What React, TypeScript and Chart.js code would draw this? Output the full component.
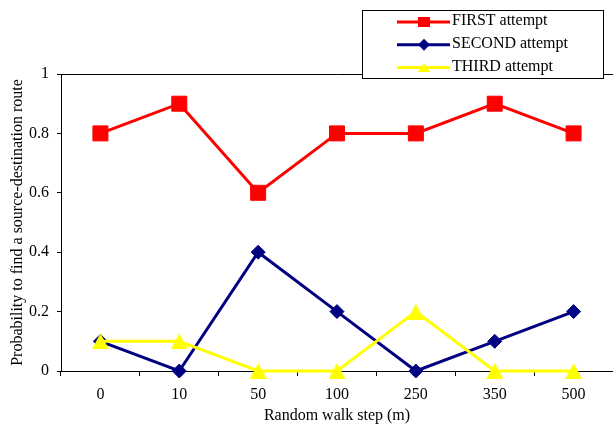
import React, { useEffect, useRef } from "react";
import { Chart, registerables } from "chart.js";

Chart.register(...registerables);

const categories = ["0", "10", "50", "100", "250", "350", "500"];
const firstAttempt = [0.8, 0.9, 0.6, 0.8, 0.8, 0.9, 0.8];
const secondAttempt = [0.1, 0, 0.4, 0.2, 0, 0.1, 0.2];
const thirdAttempt = [0.1, 0.1, 0, 0, 0.2, 0, 0];
const yTicks = [0, 0.2, 0.4, 0.6, 0.8, 1];
const seriesNames = ["FIRST attempt", "SECOND attempt", "THIRD attempt"];
const seriesColors = ["#FF0000", "#000080", "#FFFF00"];
const xTitle = "Random walk step (m)";
const yTitle = "Probability to find a source-destination route";

const FONT = "'Liberation Serif', 'Times New Roman', serif";

function makeTriangle(color: string, w: number, h: number) {
  const c = document.createElement("canvas");
  c.width = w;
  c.height = h;
  const ctx = c.getContext("2d")!;
  ctx.fillStyle = color;
  ctx.beginPath();
  ctx.moveTo(w / 2, 0);
  ctx.lineTo(w, h);
  ctx.lineTo(0, h);
  ctx.closePath();
  ctx.fill();
  return c;
}

function drawMarker(ctx: CanvasRenderingContext2D, kind: number, x: number, y: number) {
  ctx.beginPath();
  if (kind === 0) {
    ctx.rect(x - 6, y - 5, 12, 10);
  } else if (kind === 1) {
    ctx.moveTo(x - 6, y);
    ctx.lineTo(x, y - 6);
    ctx.lineTo(x + 6, y);
    ctx.lineTo(x, y + 6);
    ctx.closePath();
  } else {
    ctx.moveTo(x, y - 4);
    ctx.lineTo(x + 6.5, y + 4.5);
    ctx.lineTo(x - 6.5, y + 4.5);
    ctx.closePath();
  }
  ctx.fill();
}

const legendPlugin = {
  id: "excelLegend",
  afterDraw(chart: any) {
    const ctx = chart.ctx as CanvasRenderingContext2D;
    ctx.save();
    const bx = 362.5, by = 10.5, bw = 241, bh = 68;
    ctx.fillStyle = "#fff";
    ctx.fillRect(bx, by, bw, bh);
    ctx.strokeStyle = "#000";
    ctx.lineWidth = 1;
    ctx.strokeRect(bx, by, bw, bh);
    ctx.font = `16px ${FONT}`;
    ctx.textBaseline = "middle";
    ctx.textAlign = "left";
    seriesNames.forEach((name, i) => {
      const y = 22 + i * 22.7;
      ctx.strokeStyle = seriesColors[i];
      ctx.fillStyle = seriesColors[i];
      ctx.lineWidth = 3;
      ctx.beginPath();
      ctx.moveTo(397, y);
      ctx.lineTo(450, y);
      ctx.stroke();
      drawMarker(ctx, i, 424, y);
      ctx.fillStyle = "#000";
      ctx.fillText(name, 452, y - 1);
    });
    ctx.restore();
  },
};

export default function App() {
  const ref = useRef<HTMLCanvasElement | null>(null);
  useEffect(() => {
    if (!ref.current) return;
    const tri = makeTriangle(seriesColors[2], 17, 16);
    const chart = new Chart(ref.current, {
      type: "line",
      data: {
        labels: categories,
        datasets: [
          {
            label: seriesNames[0],
            data: firstAttempt,
            borderColor: seriesColors[0],
            backgroundColor: seriesColors[0],
            borderWidth: 3,
            pointStyle: "rect",
            pointRadius: 10.6,
            pointBorderWidth: 1,
            pointBorderColor: seriesColors[0],
            pointBackgroundColor: seriesColors[0],
            order: 2,
            tension: 0,
            clip: false,
          },
          {
            label: seriesNames[1],
            data: secondAttempt,
            borderColor: seriesColors[1],
            backgroundColor: seriesColors[1],
            borderWidth: 3,
            pointStyle: "rectRot",
            pointRadius: 7,
            pointBorderWidth: 1,
            pointBorderColor: seriesColors[1],
            pointBackgroundColor: seriesColors[1],
            order: 1,
            tension: 0,
            clip: false,
          },
          {
            label: seriesNames[2],
            data: thirdAttempt,
            borderColor: seriesColors[2],
            backgroundColor: seriesColors[2],
            borderWidth: 3,
            pointStyle: tri as any,
            pointRadius: 9,
            order: 0,
            tension: 0,
            clip: false,
          },
        ],
      },
      options: {
        animation: false,
        responsive: false,
        maintainAspectRatio: false,
        layout: { padding: { top: 74, right: 6, left: 0, bottom: 0 } },
        plugins: { legend: { display: false }, tooltip: { enabled: false } },
        scales: {
          x: {
            type: "category",
            offset: true,
            grid: {
              display: true,
              offset: true,
              drawOnChartArea: false,
              drawTicks: true,
              tickLength: 5,
              tickColor: "#000",
              color: "#000",
            },
            border: { display: true, color: "#000", width: 1 },
            ticks: { color: "#000", font: { family: FONT, size: 16 }, padding: 9, maxRotation: 0 },
            title: {
              display: true,
              text: xTitle,
              color: "#000",
              font: { family: FONT, size: 16 },
              padding: { top: 0, bottom: 0 },
            },
            afterFit: (s: any) => {
              s.height = 54;
            },
          },
          y: {
            min: 0,
            max: 1,
            afterBuildTicks: (s: any) => {
              s.ticks = yTicks.map((v) => ({ value: v }));
            },
            grid: {
              display: true,
              drawOnChartArea: true,
              drawTicks: true,
              tickLength: 4,
              tickColor: "#000",
              color: (c: any) => (c.tick && c.tick.value === 1 ? "#000" : "rgba(0,0,0,0)"),
            },
            border: { display: true, color: "#000", width: 1 },
            ticks: {
              color: "#000",
              font: { family: FONT, size: 16 },
              padding: 8,
              callback: (v: any) => String(v),
            },
            title: {
              display: true,
              text: yTitle,
              color: "#000",
              font: { family: FONT, size: 16 },
              padding: { top: 8, bottom: 0 },
            },
            afterFit: (s: any) => {
              s.width = 61;
            },
          },
        },
      },
      plugins: [legendPlugin],
    });
    return () => chart.destroy();
  }, []);
  return (
    <div style={{ position: "fixed", left: 0, top: 0, width: 613, height: 425, overflow: "hidden", background: "#fff" }}>
      <canvas ref={ref} width={625} height={425} style={{ display: "block" }} />
    </div>
  );
}
